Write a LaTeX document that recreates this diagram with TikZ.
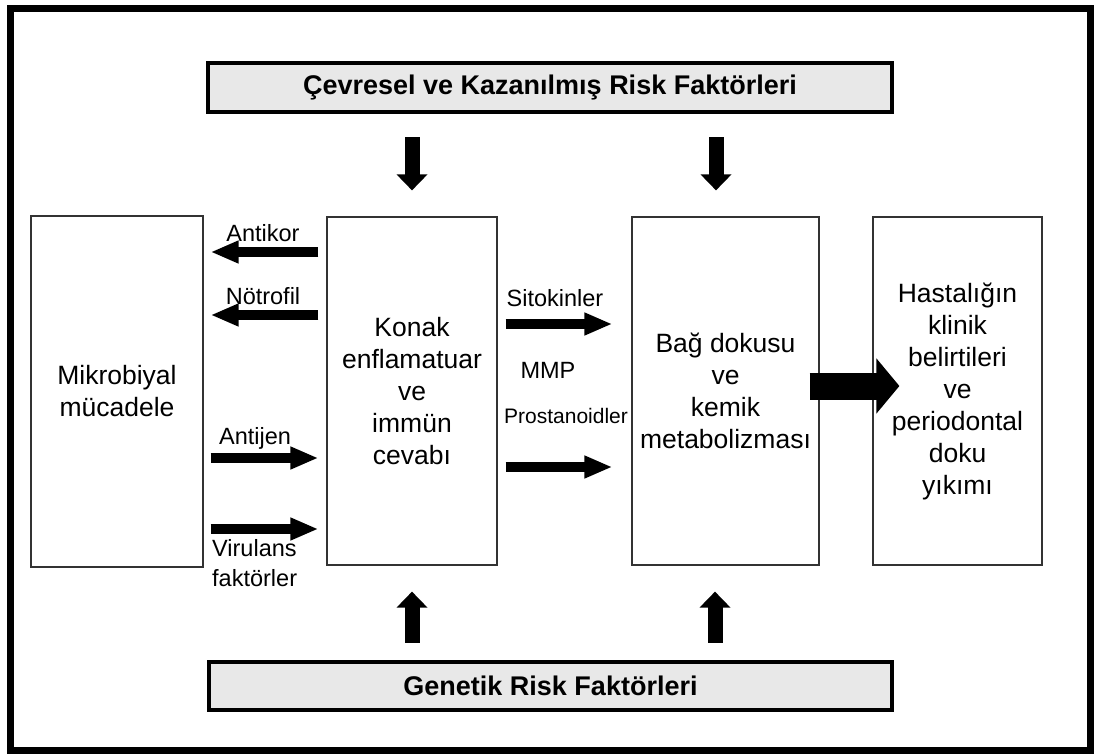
\documentclass[tikz,border=0pt]{standalone}
\usepackage{fontspec}
\setmainfont{Liberation Sans}
\usetikzlibrary{arrows.meta}
\tikzset{
  kutu/.style={draw=black!80, line width=1.2pt, fill=white, inner sep=0pt, align=center, font=\fontsize{26.5}{32}\selectfont},
  etken/.style={draw=black, line width=4.5pt, fill=black!9, inner sep=0pt, font=\bfseries\fontsize{27}{30}\selectfont},
  etiket/.style={inner sep=0pt, align=left, font=\fontsize{23.5}{30}\selectfont},
  ince/.style={line width=10pt, -{Triangle[width=21pt,length=28pt]}},
  dikey/.style={line width=15pt, -{Triangle[width=30pt,length=16pt]}},
  kalin/.style={line width=27pt, -{Triangle[width=54pt,length=23pt]}}
}
\begin{document}
\begin{tikzpicture}[x=1pt, y=-1pt, line join=miter]
\useasboundingbox (0,0) rectangle (1094,754);
\draw[line width=7pt] (10.5,8.5) rectangle (1090.5,750.5);

% risk faktorleri
\node[etken, minimum width=684pt, minimum height=49pt] (cevre) at (550,87.5) {Çevresel ve Kazanılmış Risk Faktörleri};
\node[etken, minimum width=683pt, minimum height=48pt] (genetik) at (550.5,686) {Genetik Risk Faktörleri};

% kutular
\node[kutu, minimum width=172pt, minimum height=351pt] (mikro) at (117,391.5) {Mikrobiyal\\mücadele};
\node[kutu, minimum width=170pt, minimum height=348pt] (konak) at (412,391) {Konak\\enflamatuar\\ve\\immün\\cevabı};
\node[kutu, minimum width=187pt, minimum height=348pt] (bag) at (725.5,391) {Bağ dokusu\\ve\\kemik\\metabolizması};
\node[kutu, minimum width=169pt, minimum height=348pt] (hasta) at (957.5,391) {Hastalığın\\klinik\\belirtileri\\ve\\periodontal\\doku\\yıkımı};

% etiketler
\node[etiket] (antikor) at (263,233) {Antikor};
\node[etiket] (notrofil) at (263,296) {Nötrofil};
\node[etiket] (antijen) at (255,438) {Antijen};
\node[etiket, anchor=north west] (virulans) at (212,539) {Virulans\\faktörler};
\node[etiket] (sitokin) at (555,298) {Sitokinler};
\node[etiket] (mmp) at (548,370) {MMP};
\node[etiket, font=\fontsize{21}{25}\selectfont] (prosta) at (566,416) {Prostanoidler};

% oklar
\foreach \y in {252,315}
  \draw[ince] ([xshift=-8pt]konak.west |- 0,\y) -- ([xshift=7pt]mikro.east |- 0,\y);
\foreach \y in {458,529}
  \draw[ince] ([xshift=7pt]mikro.east |- 0,\y) -- ([xshift=-8pt]konak.west |- 0,\y);
\foreach \y in {324,467}
  \draw[ince] ([xshift=8pt]konak.east |- 0,\y) -- ([xshift=-19pt]bag.west |- 0,\y);
\foreach \x in {412,716}
  \draw[dikey] ([yshift=-23pt]cevre.south -| \x,0) -- ([yshift=26pt]konak.north -| \x,0);
\foreach \x in {412,715}
  \draw[dikey] ([yshift=17pt]genetik.north -| \x,0) -- ([yshift=-26pt]konak.south -| \x,0);
\draw[kalin] ([xshift=-10pt]bag.east |- 0,386) -- ([xshift=27pt]hasta.west |- 0,386);
\end{tikzpicture}
\end{document}
